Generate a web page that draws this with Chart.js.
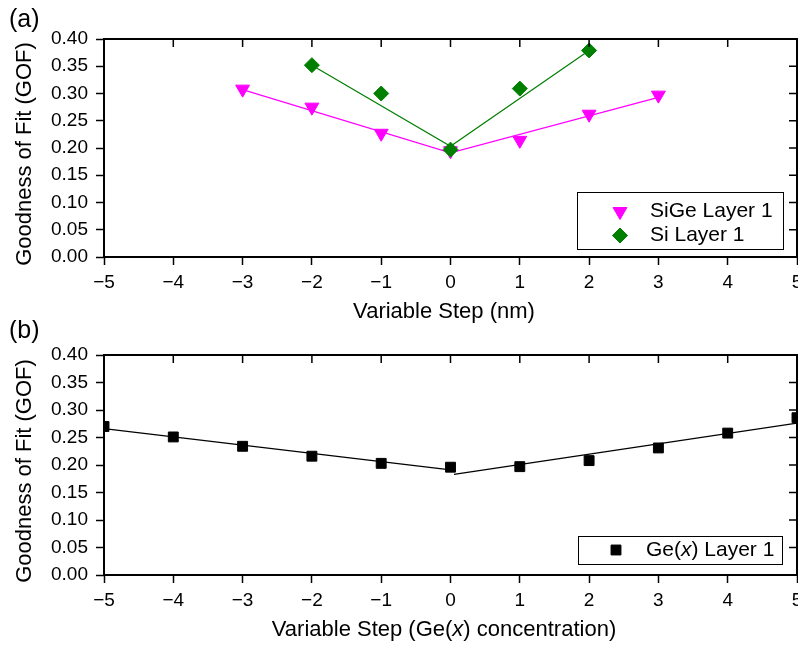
<!DOCTYPE html>
<html>
<head>
<meta charset="utf-8">
<script src="https://cdn.jsdelivr.net/npm/chart.js@4.4.1/dist/chart.umd.min.js"></script>
<style>
  html, body { margin: 0; padding: 0; background: #fff; overflow: hidden; width: 798px; height: 645px; }
  canvas { position: absolute; left: 0; }
  #chartA { top: 0; }
  #chartB { top: 320px; }
</style>
</head>
<body>
<canvas id="chartA" width="830" height="330"></canvas>
<canvas id="chartB" width="830" height="325"></canvas>
<script>
// (a) thickness step in nm
const sigeSteps = [-3, -2, -1, 0, 1, 2, 3];
const sigeGof = [0.308, 0.275, 0.227, 0.195, 0.214, 0.262, 0.297];
const siSteps = [-2, -1, 0, 1, 2];
const siGof = [0.352, 0.300, 0.197, 0.309, 0.379];
// fit lines (two straight pieces meeting at 0)
const sigeFitX = [-3, 0, 3];
const sigeFitY = [0.307, 0.191, 0.293];
const siFitX = [-2, 0, 2];
const siFitY = [0.352, 0.203, 0.379];

// (b) Ge(x) concentration step
const geSteps = [-5, -4, -3, -2, -1, 0, 1, 2, 3, 4, 5];
const geGof = [0.270, 0.251, 0.234, 0.216, 0.203, 0.196, 0.197, 0.208, 0.231, 0.258, 0.286];
const geFitLeftX = [-5, 0];
const geFitLeftY = [0.266, 0.191];
const geFitRightX = [0.05, 5];
const geFitRightY = [0.183, 0.276];

const FONT = '"Liberation Sans", Arial, sans-serif';
const MAGENTA = '#ff00ff';
const GREEN = '#007f00';

function pts(xs, ys) {
  return xs.map((x, i) => ({ x: x, y: ys[i] }));
}

function markerSet(xs, ys, color, style, radius, rotation, order) {
  return {
    data: pts(xs, ys), showLine: false, order: order,
    pointStyle: style, pointRadius: radius, pointRotation: rotation,
    backgroundColor: color, borderColor: color, pointBorderWidth: 1
  };
}

function fitSet(xs, ys, color, order) {
  return {
    data: pts(xs, ys), showLine: true, order: order,
    pointRadius: 0, borderColor: color, borderWidth: 1.2
  };
}

// draw text made of plain / italic pieces
function drawPieces(ctx, pieces, x, y, size, align) {
  const fonts = pieces.map(p => (p.i ? 'italic ' : '') + size + 'px ' + FONT);
  let total = 0;
  pieces.forEach((p, k) => { ctx.font = fonts[k]; total += ctx.measureText(p.t).width; });
  let cx = align === 'center' ? x - total / 2 : x;
  ctx.textAlign = 'left';
  ctx.textBaseline = 'middle';
  pieces.forEach((p, k) => {
    ctx.font = fonts[k];
    ctx.fillText(p.t, cx, y);
    cx += ctx.measureText(p.t).width;
  });
}

const panelPlugin = {
  id: 'panel',
  afterDraw(chart, args, o) {
    const { ctx, chartArea: a } = chart;
    const xs = chart.scales.x, ys = chart.scales.y;
    ctx.save();
    ctx.strokeStyle = '#000';
    ctx.fillStyle = '#000';
    // frame + inward mirror ticks on top and right
    ctx.lineWidth = 2;
    ctx.strokeRect(a.left, a.top, a.width, a.height);
    ctx.lineWidth = 1.5;
    ctx.beginPath();
    xs.ticks.forEach(t => {
      const px = xs.getPixelForValue(t.value);
      ctx.moveTo(px, a.top); ctx.lineTo(px, a.top + 8);
    });
    ys.ticks.forEach(t => {
      const py = ys.getPixelForValue(t.value);
      ctx.moveTo(a.right, py); ctx.lineTo(a.right - 8, py);
    });
    ctx.stroke();

    // panel tag
    ctx.font = '25px ' + FONT;
    ctx.textAlign = 'left';
    ctx.textBaseline = 'middle';
    ctx.fillText(o.tag, 9, o.tagY);

    // axis titles
    drawPieces(ctx, o.xTitle, 444, a.bottom + 55, 22, 'center');
    ctx.save();
    ctx.translate(25, (a.top + a.bottom) / 2 + 6);
    ctx.rotate(-Math.PI / 2);
    drawPieces(ctx, [{ t: 'Goodness of Fit (GOF)' }], 0, 0, 22, 'center');
    ctx.restore();

    // legend box
    const L = o.legend;
    const bx = a.right - L.dx, by = a.bottom - L.dy;
    ctx.fillStyle = '#fff';
    ctx.fillRect(bx, by, L.w, L.h);
    ctx.lineWidth = 1;
    ctx.strokeStyle = '#000';
    ctx.strokeRect(bx + 0.5, by + 0.5, L.w, L.h);
    L.items.forEach((it, k) => {
      const ry = by + L.row0 + k * 24;
      ctx.fillStyle = it.color;
      ctx.strokeStyle = it.color;
      Chart.helpers.drawPoint(ctx, { pointStyle: it.style, radius: it.radius, rotation: it.rotation, borderWidth: 1 }, bx + L.mx, ry);
      ctx.fillStyle = '#000';
      drawPieces(ctx, it.label, bx + L.tx, ry, 21, 'left');
    });
    ctx.restore();
  }
};

function makeChart(id, cfg) {
  const tickFont = { family: FONT, size: 19 };
  const grid = { drawOnChartArea: false, tickLength: 8, tickWidth: 1.5, tickColor: '#000' };
  return new Chart(document.getElementById(id), {
    type: 'scatter',
    data: { datasets: cfg.datasets },
    options: {
      responsive: false,
      animation: false,
      devicePixelRatio: 1,
      layout: { padding: { top: cfg.top, right: 33, left: 0, bottom: 0 } },
      plugins: { legend: { display: false }, tooltip: { enabled: false }, panel: cfg.panel },
      scales: {
        x: {
          type: 'linear', min: -5, max: 5,
          grid: grid, border: { display: false },
          ticks: { stepSize: 1, autoSkip: false, maxRotation: 0, padding: 6, color: '#000', font: tickFont,
                   callback: v => String(v).replace('-', '\u2212') },
          afterFit: s => { s.height = cfg.xHeight; }
        },
        y: {
          type: 'linear', min: 0, max: 0.4,
          grid: grid, border: { display: false },
          ticks: { stepSize: 0.05, autoSkip: false, padding: 8, color: '#000', font: tickFont,
                   callback: v => v.toFixed(2) },
          afterFit: s => { s.width = 104; }
        }
      }
    },
    plugins: [panelPlugin]
  });
}

makeChart('chartA', {
  top: 39,
  xHeight: 73,
  datasets: [
    markerSet(siSteps, siGof, GREEN, 'rectRot', 7.5, 0, 0),
    markerSet(sigeSteps, sigeGof, MAGENTA, 'triangle', 8, 180, 1),
    fitSet(siFitX, siFitY, GREEN, 2),
    fitSet(sigeFitX, sigeFitY, MAGENTA, 3)
  ],
  panel: {
    tag: '(a)', tagY: 20,
    xTitle: [{ t: 'Variable Step (nm)' }],
    legend: {
      dx: 220, dy: 65, w: 206, h: 57, row0: 19.5, mx: 43, tx: 73,
      items: [
        { style: 'triangle', radius: 8, rotation: 180, color: MAGENTA, label: [{ t: 'SiGe Layer 1' }] },
        { style: 'rectRot', radius: 7.5, rotation: 0, color: GREEN, label: [{ t: 'Si Layer 1' }] }
      ]
    }
  }
});

makeChart('chartB', {
  top: 35,
  xHeight: 70,
  datasets: [
    markerSet(geSteps, geGof, '#000', 'rect', 7, 0, 0),
    fitSet(geFitLeftX, geFitLeftY, '#000', 1),
    fitSet(geFitRightX, geFitRightY, '#000', 2)
  ],
  panel: {
    tag: '(b)', tagY: 11,
    xTitle: [{ t: 'Variable Step (Ge(' }, { t: 'x', i: true }, { t: ') concentration)' }],
    legend: {
      dx: 219, dy: 39, w: 204, h: 28, row0: 14, mx: 38, tx: 68,
      items: [
        { style: 'rect', radius: 7, rotation: 0, color: '#000',
          label: [{ t: 'Ge(' }, { t: 'x', i: true }, { t: ') Layer 1' }] }
      ]
    }
  }
});
</script>
</body>
</html>
